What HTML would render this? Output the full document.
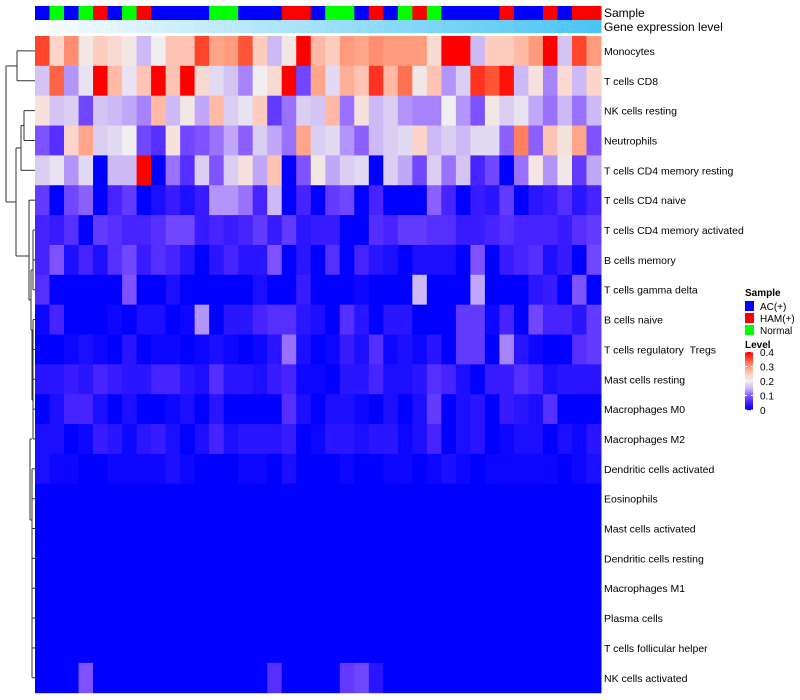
<!DOCTYPE html>
<html><head><meta charset="utf-8"><style>
html,body{margin:0;padding:0;background:#fff;width:800px;height:700px;overflow:hidden}
svg text{font-family:"Liberation Sans",sans-serif;fill:#000}
</style></head><body>
<svg id="chart" width="800" height="700" xmlns="http://www.w3.org/2000/svg"></svg>
<script>
const rowNames=["Monocytes","T cells CD8","NK cells resting","Neutrophils","T cells CD4 memory resting","T cells CD4 naive","T cells CD4 memory activated","B cells memory","T cells gamma delta","B cells naive","T cells regulatory \u00a0Tregs","Mast cells resting","Macrophages M0","Macrophages M2","Dendritic cells activated","Eosinophils","Mast cells activated","Dendritic cells resting","Macrophages M1","Plasma cells","T cells follicular helper","NK cells activated"];
const sampleGroups=["A","N","A","N","H","A","N","H","A","A","A","A","N","N","A","A","A","H","H","A","N","N","A","H","A","N","H","N","A","A","A","A","H","A","A","H","A","H","H"];
const v1=[.36,.24,.31,.21,.25,.23,.21,.15,.2,.26,.26,.36,.29,.3,.35,.25,.15,.21,.4,.27,.25,.3,.29,.31,.3,.3,.3,.23,.4,.4,.15,.25,.25,.27,.3,.4,.16,.36,.3];
const v2=[.16,.34,.13,.19,.4,.27,.19,.26,.4,.26,.4,.23,.18,.16,.12,.2,.23,.4,.08,.29,.18,.28,.26,.37,.27,.33,.21,.26,.13,.17,.37,.35,.39,.15,.22,.12,.23,.15,.24];
const v3=[.22,.16,.17,.08,.16,.15,.14,.12,.27,.15,.21,.14,.27,.17,.19,.25,.07,.11,.17,.16,.27,.11,.22,.15,.17,.13,.12,.12,.2,.13,.09,.21,.17,.19,.14,.11,.15,.11,.15];
const v4=[.09,.06,.24,.29,.17,.18,.2,.08,.06,.22,.08,.09,.11,.14,.1,.17,.14,.11,.29,.17,.18,.13,.1,.15,.17,.18,.24,.15,.17,.15,.18,.18,.1,.32,.1,.26,.22,.29,.09];
const v5=[.17,.19,.13,.18,0,.15,.15,.4,0,.11,.06,.17,.09,.17,.22,.14,.26,0,.09,.21,.14,.17,.18,0,.17,.14,.08,.17,.11,.16,.05,.08,0,.11,.21,.13,.21,.07,.14];
const v6=[.07,0,.08,.1,0,.05,.07,0,.02,.04,.02,.04,.13,.13,.11,.05,.15,0,.05,0,.07,.08,0,.05,0,0,0,.1,.05,0,.04,.03,.07,0,.03,.04,.06,.03,.05];
const v7=[.05,.04,.06,0,.07,.06,.05,.05,.06,.08,.08,.04,.05,.04,.05,.07,.04,.07,.03,.04,.04,0,0,.06,.05,.07,.07,.06,.06,.04,.04,.05,.06,.05,.05,.05,.04,.06,.07];
const v8=[.05,.09,.02,.05,.02,.06,.08,.04,.06,.05,.03,0,.03,.05,.03,.03,.09,0,.03,0,.06,0,.05,.03,.02,0,.02,.02,.02,0,.09,0,.04,.05,.06,.02,.04,0,.08];
const v9=[.06,0,0,0,0,0,.09,0,0,.02,0,0,0,0,0,.02,0,0,.04,0,0,0,.01,0,0,0,.15,0,0,0,.14,0,0,0,.03,.04,0,.09,0];
const v10=[.01,.05,0,0,0,.01,0,.02,.02,0,.01,.13,0,.03,.03,.05,.06,.06,.03,.02,0,.06,.03,0,.03,.03,0,0,0,.07,.07,.01,.05,0,.08,.05,.05,.03,.07];
const v11=[0,0,.01,.02,.01,0,.03,0,.01,.01,0,.01,.02,.01,0,.01,.03,.11,.02,0,.01,.04,.02,.06,.01,.02,.01,.03,0,.07,.07,0,.12,.03,.01,0,0,.06,.07];
const v12=[.03,.03,.04,.03,.05,.04,.03,.03,.05,.05,.03,.02,.06,.03,.03,.02,.04,.05,.01,.01,0,.03,.03,.05,.02,.02,.03,.06,.05,.02,0,.04,.04,.06,.05,.02,.03,.03,.03];
const v13=[0,.02,.05,.05,.02,0,.02,0,0,.01,.02,0,.03,0,0,0,0,.06,.02,0,.02,.02,.01,0,.02,0,.02,.07,0,.02,.03,0,.04,.03,.02,.06,0,0,0];
const v14=[.02,.02,0,.01,.04,.03,.01,.03,.04,.02,0,.02,.05,.02,.03,.03,.03,.04,0,.01,.03,.03,.02,.03,.03,.01,.02,.05,0,.02,.03,0,.01,.02,.02,0,.02,.01,.03];
const v15=[.02,.01,.01,0,0,.01,.01,.01,.01,.02,.01,0,0,0,.01,.01,0,.02,0,0,0,.01,0,0,.01,.01,0,.01,.02,.01,0,.01,.01,.01,.01,.01,0,.01,.02];
const zeros=new Array(39).fill(0);
const v22=[0,0,0,.09,0,0,0,0,0,0,0,0,0,0,0,0,.06,0,0,0,0,.07,.08,.03,0,0,0,0,0,0,0,0,0,0,0,0,0,0,0];
const matrix=[v1,v2,v3,v4,v5,v6,v7,v8,v9,v10,v11,v12,v13,v14,v15,zeros,zeros,zeros,zeros,zeros,zeros,v22];
const legendTicks=["0.4","0.3","0.2","0.1","0"];

const NS="http://www.w3.org/2000/svg";
const svg=document.getElementById('chart');
function mk(t,a,p){const e=document.createElementNS(NS,t);for(const k in a)e.setAttribute(k,a[k]);(p||svg).appendChild(e);return e;}
const X0=35,X1=601,Y0=36,RH=29.85;
const nC=sampleGroups.length,CW=(X1-X0)/nC;
const xPos=i=>X0+i*CW, yPos=r=>Y0+r*RH;
const stops=[[0,[0,0,255]],[0.05,[70,35,255]],[0.1,[140,95,255]],[0.15,[205,185,245]],[0.2,[240,238,240]],[0.25,[255,205,192]],[0.3,[255,155,125]],[0.35,[255,85,55]],[0.4,[255,0,0]]];
function col(v){v=Math.max(0,Math.min(0.4,v));for(let i=1;i<stops.length;i++){if(v<=stops[i][0]){const a=stops[i-1],b=stops[i],t=(v-a[0])/(b[0]-a[0]);const c=a[1].map((x,k)=>Math.round(x+(b[1][k]-x)*t));return `rgb(${c.join(',')})`;}}return 'rgb(255,0,0)';}
const gCol={A:'#0000ff',H:'#ff0000',N:'#00ff00'};
sampleGroups.forEach((g,i)=>{const r=mk('rect',{x:xPos(i),y:6,width:CW+0.5,height:14,fill:gCol[g]});

});
for(let i=0;i<nC;i++){const t=i/(nC-1);const c=[Math.round(248-(248-75)*t),Math.round(252-(252-197)*t),Math.round(255-(255-245)*t)];
const r=mk('rect',{x:xPos(i),y:20,width:CW+0.5,height:13,fill:`rgb(${c.join(',')})`});

}
let t=mk('text',{x:604,y:17,'font-size':12});t.textContent='Sample';


t=mk('text',{x:604,y:31,'font-size':12});t.textContent='Gene expression level';


matrix.forEach((row,r)=>{row.forEach((v,c)=>{const e=mk('rect',{x:xPos(c),y:yPos(r),width:CW+0.5,height:RH+0.5,fill:col(v)});

});
const l=mk('text',{x:604,y:yPos(r)+RH/2+4,'font-size':10.5});l.textContent=rowNames[r];

});
const cy=r=>yPos(r)+RH/2;
const dg=mk('g',{stroke:'#333','stroke-width':1,fill:'none'});


function seg(x1,y1,x2,y2){mk('line',{x1,y1,x2,y2},dg);}
function join(x,ya,yb,xa,xb){seg(x,ya,x,yb);seg(x,ya,xa,ya);seg(x,yb,xb,yb);}
join(17,cy(0),cy(1),X0,X0);
join(24,cy(2),cy(3),X0,X0);
join(21,(cy(2)+cy(3))/2,cy(4),24,X0);
join(29,cy(5),300,X0,31);
join(31,270,330,33,32);
seg(33,cy(6),33,cy(8));seg(33,cy(6),X0,cy(6));seg(33,cy(7),X0,cy(7));seg(33,cy(8),X0,cy(8));
join(32,330,400,33,33);
seg(33,cy(9),33,cy(13));for(let r=9;r<=13;r++)seg(33,cy(r),X0,cy(r));
join(30,cy(13),520,32,32);
seg(32,cy(14),32,cy(21));for(let r=14;r<=21;r++)seg(32,cy(r),X0,cy(r));
join(16,(cy(2)+cy(3)+2*cy(4))/4,256,21,29);
join(6,cy(0)+15,(((cy(2)+cy(3))/2+cy(4))/2+256)/2,17,16);
const lg=mk('g',{});


t=mk('text',{x:745,y:296,'font-size':10,'font-weight':'bold'},lg);t.textContent='Sample';
[['A','AC(+)'],['H','HAM(+)'],['N','Normal']].forEach((p,i)=>{
const r=mk('rect',{x:745,y:301+i*12,width:9,height:10,fill:gCol[p[0]]},lg);


const tx=mk('text',{x:760,y:310+i*12,'font-size':10},lg);tx.textContent=p[1];

});
t=mk('text',{x:745,y:348,'font-size':10,'font-weight':'bold'},lg);t.textContent='Level';
const cb0=352,cb1=410;
for(let i=0;i<58;i++){const v=0.4*(1-i/57);mk('rect',{x:745,y:cb0+i,width:8,height:1.2,fill:col(v)},lg);}
legendTicks.forEach((s,i)=>{const y=cb0+(cb1-cb0)*(1-parseFloat(s)/0.4);
mk('line',{x1:745,y1:y,x2:747,y2:y,stroke:'#fff'},lg);mk('line',{x1:751,y1:y,x2:753,y2:y,stroke:'#fff'},lg);
const tx=mk('text',{x:760,y:y+4,'font-size':10},lg);tx.textContent=s;

});
</script>
</body></html>
